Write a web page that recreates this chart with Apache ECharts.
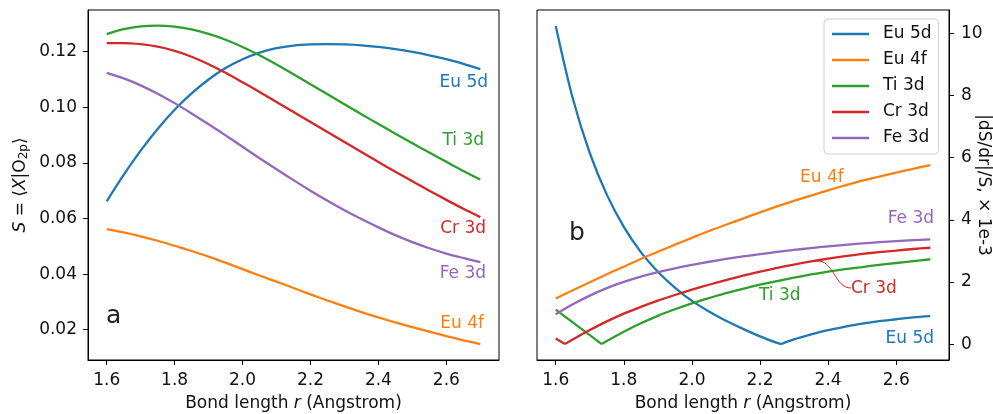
<!DOCTYPE html>
<html>
<head>
<meta charset="utf-8">
<script src="https://cdn.jsdelivr.net/npm/echarts@6/dist/echarts.min.js"></script>
<style>html,body{margin:0;padding:0;background:#fff}#c{width:993px;height:414px}</style>
</head>
<body>
<div id="c"></div>
<script>
// ---------- data ----------
const seriesNames = ['Eu 5d', 'Eu 4f', 'Ti 3d', 'Cr 3d', 'Fe 3d'];
const xs = [1.6,1.65,1.7,1.75,1.8,1.85,1.9,1.95,2.0,2.05,2.1,2.15,2.2,2.25,2.3,2.35,2.4,2.45,2.5,2.55,2.6,2.65,2.7];
const xTicks = [1.6,1.8,2.0,2.2,2.4,2.6];
const leftYTicks = [0.02,0.04,0.06,0.08,0.10,0.12];
const rightYTicks = [0,2,4,6,8,10];

// panel a: overlap S
const leftEu5d = [0.0662,0.0757,0.0844,0.0922,0.0991,0.1050,0.1100,0.1141,0.1173,0.1197,0.1213,0.1222,0.1226,0.1227,0.1226,0.1223,0.1217,0.1209,0.1199,0.1187,0.1173,0.1156,0.1137];
const leftEu4f = [0.0562,0.0550,0.0536,0.0520,0.0502,0.0483,0.0463,0.0441,0.0418,0.0395,0.0373,0.0350,0.0327,0.0305,0.0284,0.0263,0.0244,0.0226,0.0209,0.0193,0.0177,0.0162,0.0148];
const leftTi3d = [0.1263,0.1281,0.1291,0.1294,0.1290,0.1280,0.1264,0.1243,0.1217,0.1187,0.1154,0.1119,0.1083,0.1047,0.1011,0.0975,0.0940,0.0905,0.0871,0.0837,0.0804,0.0771,0.0740];
const leftCr3d = [0.1231,0.1231,0.1227,0.1218,0.1203,0.1182,0.1155,0.1124,0.1090,0.1055,0.1019,0.0983,0.0947,0.0911,0.0875,0.0839,0.0803,0.0768,0.0734,0.0700,0.0667,0.0635,0.0605];
const leftFe3d = [0.1124,0.1104,0.1079,0.1049,0.1015,0.0978,0.0939,0.0899,0.0858,0.0817,0.0777,0.0738,0.0700,0.0664,0.0630,0.0598,0.0568,0.0540,0.0515,0.0493,0.0474,0.0458,0.0443];

// panel b: |dS/dr|/S x 1e-3 (kinked curves given as two branches meeting at the zero)
const rightEu5dAX = [1.6,1.65,1.7,1.75,1.8,1.85,1.9,1.95,2.0,2.05,2.1,2.15,2.2,2.25,2.262];
const rightEu5dA = [10.24,7.91,6.15,4.81,3.77,2.96,2.33,1.82,1.39,1.05,0.75,0.49,0.25,0.04,0];
const rightEu5dBX = [2.262,2.3,2.35,2.4,2.45,2.5,2.55,2.6,2.65,2.7];
const rightEu5dB = [0,0.15,0.31,0.45,0.56,0.66,0.74,0.80,0.86,0.90];
const rightEu4f = [1.47,1.73,1.99,2.25,2.49,2.74,2.97,3.20,3.42,3.64,3.84,4.04,4.24,4.43,4.61,4.78,4.95,5.11,5.26,5.39,5.52,5.64,5.76];
const rightTi3dAX = [1.6,1.65,1.7,1.735];
const rightTi3dA = [1.11,0.70,0.29,0];
const rightTi3dBX = [1.735,1.75,1.8,1.85,1.9,1.95,2.0,2.05,2.1,2.15,2.2,2.25,2.3,2.35,2.4,2.45,2.5,2.55,2.6,2.65,2.7];
const rightTi3dB = [0,0.10,0.40,0.67,0.91,1.12,1.31,1.48,1.64,1.78,1.91,2.03,2.14,2.24,2.33,2.41,2.48,2.55,2.61,2.67,2.73];
const rightCr3dAX = [1.6,1.627];
const rightCr3dA = [0.18,0];
const rightCr3dBX = [1.627,1.65,1.7,1.75,1.8,1.85,1.9,1.95,2.0,2.05,2.1,2.15,2.2,2.25,2.3,2.35,2.4,2.45,2.5,2.55,2.6,2.65,2.7];
const rightCr3dB = [0,0.15,0.45,0.73,0.98,1.20,1.40,1.58,1.75,1.91,2.06,2.20,2.33,2.45,2.56,2.66,2.75,2.83,2.90,2.96,3.01,3.06,3.10];
const rightFe3d = [0.96,1.28,1.56,1.80,2.00,2.17,2.315,2.44,2.55,2.65,2.74,2.82,2.895,2.965,3.03,3.09,3.145,3.195,3.24,3.28,3.315,3.345,3.37];

// ---------- style ----------
const colors = ['#1f77b4', '#ff7f0e', '#2ca02c', '#d62728', '#9467bd'];
const FONT = 'DejaVu Sans';
const FS = 17;
const TXT = '#111';

const pair = (x, y) => x.map((v, i) => [v, y[i]]);

function xAxisCfg(gridIndex) {
  return {
    type: 'value', gridIndex, min: 1.545, max: 2.755,
    splitLine: { show: false },
    axisLine: { show: true, onZero: false, lineStyle: { color: '#000', width: 1 } },
    axisTick: { show: true, length: 5, lineStyle: { color: '#000' }, customValues: xTicks },
    axisLabel: { customValues: xTicks, color: TXT, fontSize: FS, fontFamily: FONT, margin: 12,
      formatter: v => v.toFixed(1) },
    name: 'Bond length {i|r} (Angstrom)',
    nameLocation: 'middle', nameGap: 35, nameMoveOverlap: false,
    nameTextStyle: { color: TXT, fontSize: FS, fontFamily: FONT,
      rich: { i: { fontStyle: 'italic', fontSize: FS, fontFamily: FONT, color: TXT } } }
  };
}

const lineSeries = (name, idx, data, gi, smooth) => ({
  type: 'line', name, xAxisIndex: gi, yAxisIndex: gi, data,
  showSymbol: false, symbol: 'none', smooth: smooth, silent: true,
  lineStyle: { width: 2.3, color: colors[idx] }, itemStyle: { color: colors[idx] }
});

const option = {
  animation: false,
  backgroundColor: '#fff',
  textStyle: { fontFamily: FONT },
  grid: [
    { left: 88, top: 10, width: 411, height: 350, show: true, borderColor: '#000', borderWidth: 1, backgroundColor: 'transparent', outerBoundsMode: 'none', containLabel: false },
    { left: 537, top: 10, width: 412, height: 350, show: true, borderColor: '#000', borderWidth: 1, backgroundColor: 'transparent', outerBoundsMode: 'none', containLabel: false }
  ],
  xAxis: [xAxisCfg(0), xAxisCfg(1)],
  yAxis: [
    {
      type: 'value', gridIndex: 0, min: 0.0091, max: 0.1350, position: 'left',
      splitLine: { show: false },
      axisLine: { show: true, onZero: false, lineStyle: { color: '#000' } },
      axisTick: { show: true, length: 5, lineStyle: { color: '#000' }, customValues: leftYTicks },
      axisLabel: { customValues: leftYTicks, color: TXT, fontSize: FS, fontFamily: FONT, margin: 11,
        formatter: v => v.toFixed(2) },
      name: '{i|S} = ⟨{i|X}|O{sub|2p}⟩',
      nameLocation: 'middle', nameGap: 58, nameRotate: 90, nameMoveOverlap: false,
      nameTextStyle: { color: TXT, fontSize: FS, fontFamily: FONT,
        rich: {
          i: { fontStyle: 'italic', fontSize: FS, fontFamily: FONT, color: TXT },
          sub: { fontSize: 12, fontFamily: FONT, color: TXT, padding: [6, 0, 0, 0] }
        } }
    },
    {
      type: 'value', gridIndex: 1, min: -0.512, max: 10.752, position: 'right',
      splitLine: { show: false },
      axisLine: { show: true, onZero: false, lineStyle: { color: '#000' } },
      axisTick: { show: true, length: 5, lineStyle: { color: '#000' }, customValues: rightYTicks },
      axisLabel: { customValues: rightYTicks, color: TXT, fontSize: FS, fontFamily: FONT, margin: 12,
        formatter: v => String(Math.round(v)) },
      name: '|dS/dr|/S, × 1e-3',
      nameLocation: 'middle', nameGap: 26, nameRotate: -90, nameMoveOverlap: false,
      nameTextStyle: { color: TXT, fontSize: FS, fontFamily: FONT }
    }
  ],
  legend: {
    data: seriesNames, orient: 'vertical', left: 824, top: 19,
    icon: 'rect', itemWidth: 37, itemHeight: 2.5, itemGap: 6,
    padding: [5, 7, 6, 8],
    borderColor: '#d0d0d0', borderWidth: 1, borderRadius: 4, backgroundColor: 'rgba(255,255,255,0.85)',
    textStyle: { color: TXT, fontSize: FS, fontFamily: FONT, lineHeight: 20, padding: [0, 0, 0, 9] },
    selectedMode: false
  },
  series: [
    lineSeries('Eu 5d', 0, pair(xs, leftEu5d), 0, 0.3),
    lineSeries('Eu 4f', 1, pair(xs, leftEu4f), 0, 0.3),
    lineSeries('Ti 3d', 2, pair(xs, leftTi3d), 0, 0.3),
    lineSeries('Cr 3d', 3, pair(xs, leftCr3d), 0, 0.3),
    lineSeries('Fe 3d', 4, pair(xs, leftFe3d), 0, 0.3),
    lineSeries('Eu 5d', 0, pair(rightEu5dAX, rightEu5dA), 1, 0.3),
    lineSeries('Eu 5d', 0, pair(rightEu5dBX, rightEu5dB), 1, 0.3),
    lineSeries('Eu 4f', 1, pair(xs, rightEu4f), 1, 0.3),
    lineSeries('Ti 3d', 2, pair(rightTi3dAX, rightTi3dA), 1, false),
    lineSeries('Ti 3d', 2, pair(rightTi3dBX, rightTi3dB), 1, 0.3),
    lineSeries('Cr 3d', 3, pair(rightCr3dAX, rightCr3dA), 1, false),
    lineSeries('Cr 3d', 3, pair(rightCr3dBX, rightCr3dB), 1, 0.3),
    lineSeries('Fe 3d', 4, pair(xs, rightFe3d), 1, 0.3)
  ]
};

const txt = (text, x, y, color, align, size) => ({
  type: 'text', x, y, silent: true, z: 100,
  style: { text, fill: color, font: (size || FS) + 'px "' + FONT + '"', align: align || 'left', verticalAlign: 'middle' }
});

option.graphic = [
  // panel a labels
  txt('Eu 5d', 488, 83, colors[0], 'right'),
  txt('Ti 3d', 484, 141, colors[2], 'right'),
  txt('Cr 3d', 486, 229, colors[3], 'right'),
  txt('Fe 3d', 486, 274, colors[4], 'right'),
  txt('Eu 4f', 484, 324, colors[1], 'right'),
  txt('a', 106, 316, '#222', 'left', 25),
  // panel b labels
  txt('Eu 4f', 800, 178, colors[1], 'left'),
  txt('Fe 3d', 934, 219, colors[4], 'right'),
  txt('Cr 3d', 851, 289, colors[3], 'left'),
  txt('Ti 3d', 759, 296, colors[2], 'left'),
  txt('Eu 5d', 934, 339, colors[0], 'right'),
  txt('b', 569, 233, '#222', 'left', 25),
  {
    type: 'bezierCurve', silent: true, z: 90,
    shape: { x1: 816, y1: 261, cpx1: 834, cpy1: 259, cpx2: 834, cpy2: 288, x2: 851, y2: 288 },
    style: { stroke: colors[3], lineWidth: 1, fill: null }
  }
];

const chart = echarts.init(document.getElementById('c'), null, { renderer: 'canvas' });
chart.setOption(option);
</script>
</body>
</html>
